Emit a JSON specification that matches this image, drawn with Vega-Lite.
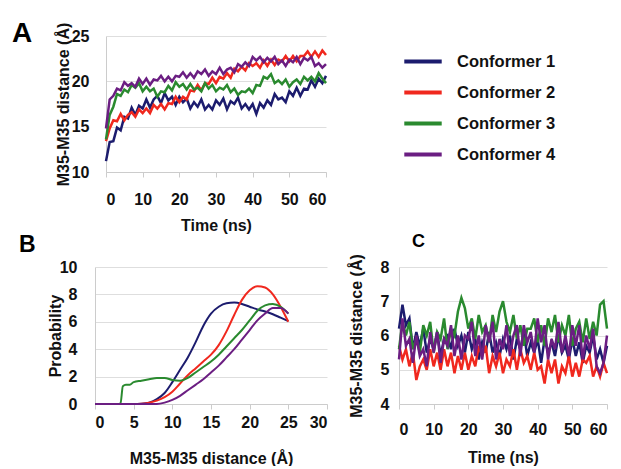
{
"$schema":"https://vega.github.io/schema/vega-lite/v6.json",
"background":"white",
"padding":{"left":12,"top":20,"right":5,"bottom":0},
"config":{
"font":"Liberation Sans",
"view":{"stroke":null},
"axis":{"labelFont":"Liberation Sans","labelFontWeight":"bold","labelFontSize":16,"labelColor":"#111","titleFont":"Liberation Sans","titleFontWeight":"bold","titleFontSize":16,"titleColor":"#111","gridColor":"#dedede","domainColor":"#cccccc","tickColor":"#cccccc"},
"axisY":{"ticks":false,"grid":true},
"axisX":{"grid":false,"tickSize":5},
"legend":{"orient":"none","legendX":307,"legendY":13,"symbolType":"stroke","symbolSize":1400,"symbolStrokeWidth":4,"clipHeight":25,"rowPadding":6,"labelFont":"Liberation Sans","labelFontWeight":"bold","labelFontSize":16.5,"labelColor":"#111","labelOffset":13,"padding":0},
"title":{"font":"Liberation Sans","fontWeight":"bold","color":"#000","anchor":"start","frame":"group"}
},
"datasets":{
"A":[
{"s":1,"t":0,"v":11.2},{"s":1,"t":1,"v":13.3},{"s":1,"t":2,"v":13.4},{"s":1,"t":3,"v":14.9},{"s":1,"t":4,"v":14.6},{"s":1,"t":5,"v":16.1},{"s":1,"t":6,"v":15.9},{"s":1,"t":7,"v":17.1},{"s":1,"t":8,"v":16.3},{"s":1,"t":9,"v":17.3},
{"s":1,"t":10,"v":17.0},{"s":1,"t":11,"v":18.0},{"s":1,"t":12,"v":17.1},{"s":1,"t":13,"v":18.0},{"s":1,"t":14,"v":18.4},{"s":1,"t":15,"v":17.6},{"s":1,"t":16,"v":18.7},{"s":1,"t":17,"v":17.9},{"s":1,"t":18,"v":18.3},{"s":1,"t":19,"v":17.4},
{"s":1,"t":20,"v":18.3},{"s":1,"t":21,"v":17.7},{"s":1,"t":22,"v":18.1},{"s":1,"t":23,"v":17.0},{"s":1,"t":24,"v":17.7},{"s":1,"t":25,"v":17.2},{"s":1,"t":26,"v":18.0},{"s":1,"t":27,"v":16.9},{"s":1,"t":28,"v":17.4},{"s":1,"t":29,"v":16.9},
{"s":1,"t":30,"v":17.9},{"s":1,"t":31,"v":17.4},{"s":1,"t":32,"v":18.1},{"s":1,"t":33,"v":16.9},{"s":1,"t":34,"v":17.8},{"s":1,"t":35,"v":17.5},{"s":1,"t":36,"v":18.2},{"s":1,"t":37,"v":17.0},{"s":1,"t":38,"v":17.5},{"s":1,"t":39,"v":16.9},
{"s":1,"t":40,"v":17.5},{"s":1,"t":41,"v":16.4},{"s":1,"t":42,"v":17.6},{"s":1,"t":43,"v":17.1},{"s":1,"t":44,"v":17.9},{"s":1,"t":45,"v":17.4},{"s":1,"t":46,"v":18.6},{"s":1,"t":47,"v":18.0},{"s":1,"t":48,"v":18.2},{"s":1,"t":49,"v":17.7},
{"s":1,"t":50,"v":18.9},{"s":1,"t":51,"v":18.4},{"s":1,"t":52,"v":19.3},{"s":1,"t":53,"v":18.4},{"s":1,"t":54,"v":19.2},{"s":1,"t":55,"v":19.1},{"s":1,"t":56,"v":20.1},{"s":1,"t":57,"v":19.4},{"s":1,"t":58,"v":20.3},{"s":1,"t":59,"v":19.8},{"s":1,"t":60,"v":20.6},
{"s":2,"t":0,"v":13.4},{"s":2,"t":1,"v":14.8},{"s":2,"t":2,"v":15.7},{"s":2,"t":3,"v":15.6},{"s":2,"t":4,"v":16.4},{"s":2,"t":5,"v":15.7},{"s":2,"t":6,"v":16.3},{"s":2,"t":7,"v":16.6},{"s":2,"t":8,"v":16.1},{"s":2,"t":9,"v":16.9},
{"s":2,"t":10,"v":16.5},{"s":2,"t":11,"v":17.0},{"s":2,"t":12,"v":16.5},{"s":2,"t":13,"v":17.4},{"s":2,"t":14,"v":17.0},{"s":2,"t":15,"v":17.5},{"s":2,"t":16,"v":16.9},{"s":2,"t":17,"v":17.6},{"s":2,"t":18,"v":17.5},{"s":2,"t":19,"v":18.3},
{"s":2,"t":20,"v":17.7},{"s":2,"t":21,"v":18.3},{"s":2,"t":22,"v":18.0},{"s":2,"t":23,"v":19.0},{"s":2,"t":24,"v":18.9},{"s":2,"t":25,"v":19.6},{"s":2,"t":26,"v":19.0},{"s":2,"t":27,"v":19.8},{"s":2,"t":28,"v":19.7},{"s":2,"t":29,"v":20.4},
{"s":2,"t":30,"v":19.8},{"s":2,"t":31,"v":20.5},{"s":2,"t":32,"v":20.3},{"s":2,"t":33,"v":20.9},{"s":2,"t":34,"v":20.4},{"s":2,"t":35,"v":21.4},{"s":2,"t":36,"v":21.1},{"s":2,"t":37,"v":21.6},{"s":2,"t":38,"v":21.2},{"s":2,"t":39,"v":22.0},
{"s":2,"t":40,"v":21.7},{"s":2,"t":41,"v":22.0},{"s":2,"t":42,"v":21.5},{"s":2,"t":43,"v":22.3},{"s":2,"t":44,"v":21.7},{"s":2,"t":45,"v":22.4},{"s":2,"t":46,"v":21.8},{"s":2,"t":47,"v":22.4},{"s":2,"t":48,"v":22.2},{"s":2,"t":49,"v":22.8},
{"s":2,"t":50,"v":22.2},{"s":2,"t":51,"v":22.8},{"s":2,"t":52,"v":22.2},{"s":2,"t":53,"v":22.8},{"s":2,"t":54,"v":22.8},{"s":2,"t":55,"v":23.3},{"s":2,"t":56,"v":22.7},{"s":2,"t":57,"v":23.3},{"s":2,"t":58,"v":22.7},{"s":2,"t":59,"v":23.4},{"s":2,"t":60,"v":22.9},
{"s":3,"t":0,"v":13.6},{"s":3,"t":1,"v":16.3},{"s":3,"t":2,"v":17.2},{"s":3,"t":3,"v":18.6},{"s":3,"t":4,"v":18.4},{"s":3,"t":5,"v":19.1},{"s":3,"t":6,"v":18.8},{"s":3,"t":7,"v":19.6},{"s":3,"t":8,"v":19.3},{"s":3,"t":9,"v":19.8},
{"s":3,"t":10,"v":18.9},{"s":3,"t":11,"v":19.4},{"s":3,"t":12,"v":18.9},{"s":3,"t":13,"v":19.2},{"s":3,"t":14,"v":18.3},{"s":3,"t":15,"v":18.9},{"s":3,"t":16,"v":18.8},{"s":3,"t":17,"v":19.5},{"s":3,"t":18,"v":19.0},{"s":3,"t":19,"v":19.9},
{"s":3,"t":20,"v":19.4},{"s":3,"t":21,"v":19.7},{"s":3,"t":22,"v":19.1},{"s":3,"t":23,"v":19.7},{"s":3,"t":24,"v":19.1},{"s":3,"t":25,"v":19.3},{"s":3,"t":26,"v":18.9},{"s":3,"t":27,"v":19.8},{"s":3,"t":28,"v":19.2},{"s":3,"t":29,"v":19.6},
{"s":3,"t":30,"v":18.9},{"s":3,"t":31,"v":19.3},{"s":3,"t":32,"v":19.1},{"s":3,"t":33,"v":19.6},{"s":3,"t":34,"v":18.8},{"s":3,"t":35,"v":19.2},{"s":3,"t":36,"v":18.5},{"s":3,"t":37,"v":18.9},{"s":3,"t":38,"v":18.8},{"s":3,"t":39,"v":19.2},
{"s":3,"t":40,"v":18.7},{"s":3,"t":41,"v":19.6},{"s":3,"t":42,"v":19.5},{"s":3,"t":43,"v":20.5},{"s":3,"t":44,"v":20.3},{"s":3,"t":45,"v":20.8},{"s":3,"t":46,"v":19.8},{"s":3,"t":47,"v":20.1},{"s":3,"t":48,"v":19.7},{"s":3,"t":49,"v":20.2},
{"s":3,"t":50,"v":19.4},{"s":3,"t":51,"v":19.9},{"s":3,"t":52,"v":20.2},{"s":3,"t":53,"v":19.7},{"s":3,"t":54,"v":20.5},{"s":3,"t":55,"v":20.1},{"s":3,"t":56,"v":20.5},{"s":3,"t":57,"v":20.0},{"s":3,"t":58,"v":20.9},{"s":3,"t":59,"v":20.3},{"s":3,"t":60,"v":19.8},
{"s":4,"t":0,"v":14.8},{"s":4,"t":1,"v":18.0},{"s":4,"t":2,"v":18.4},{"s":4,"t":3,"v":19.2},{"s":4,"t":4,"v":19.0},{"s":4,"t":5,"v":19.9},{"s":4,"t":6,"v":19.5},{"s":4,"t":7,"v":19.8},{"s":4,"t":8,"v":19.4},{"s":4,"t":9,"v":20.3},
{"s":4,"t":10,"v":19.7},{"s":4,"t":11,"v":20.3},{"s":4,"t":12,"v":19.6},{"s":4,"t":13,"v":20.2},{"s":4,"t":14,"v":20.1},{"s":4,"t":15,"v":20.6},{"s":4,"t":16,"v":20.0},{"s":4,"t":17,"v":20.5},{"s":4,"t":18,"v":20.0},{"s":4,"t":19,"v":20.6},
{"s":4,"t":20,"v":20.5},{"s":4,"t":21,"v":21.0},{"s":4,"t":22,"v":20.4},{"s":4,"t":23,"v":20.9},{"s":4,"t":24,"v":20.4},{"s":4,"t":25,"v":21.1},{"s":4,"t":26,"v":20.8},{"s":4,"t":27,"v":21.3},{"s":4,"t":28,"v":20.6},{"s":4,"t":29,"v":21.1},
{"s":4,"t":30,"v":20.8},{"s":4,"t":31,"v":21.5},{"s":4,"t":32,"v":20.8},{"s":4,"t":33,"v":21.3},{"s":4,"t":34,"v":21.5},{"s":4,"t":35,"v":21.0},{"s":4,"t":36,"v":21.9},{"s":4,"t":37,"v":21.6},{"s":4,"t":38,"v":22.1},{"s":4,"t":39,"v":21.7},
{"s":4,"t":40,"v":22.7},{"s":4,"t":41,"v":22.3},{"s":4,"t":42,"v":22.7},{"s":4,"t":43,"v":22.1},{"s":4,"t":44,"v":22.6},{"s":4,"t":45,"v":22.2},{"s":4,"t":46,"v":22.7},{"s":4,"t":47,"v":21.9},{"s":4,"t":48,"v":22.3},{"s":4,"t":49,"v":21.7},
{"s":4,"t":50,"v":22.4},{"s":4,"t":51,"v":22.1},{"s":4,"t":52,"v":22.7},{"s":4,"t":53,"v":21.9},{"s":4,"t":54,"v":22.6},{"s":4,"t":55,"v":22.3},{"s":4,"t":56,"v":22.7},{"s":4,"t":57,"v":21.7},{"s":4,"t":58,"v":22.0},{"s":4,"t":59,"v":21.5},{"s":4,"t":60,"v":21.9}
],
"B":[
{"s":1,"x":0,"p":0},{"s":1,"x":1,"p":0},{"s":1,"x":2,"p":0},{"s":1,"x":3,"p":0},{"s":1,"x":4,"p":0},{"s":1,"x":5,"p":0},{"s":1,"x":6,"p":0.02},{"s":1,"x":7,"p":0.1},{"s":1,"x":8,"p":0.35},{"s":1,"x":9,"p":0.8},{"s":1,"x":10,"p":1.6},{"s":1,"x":11,"p":2.5},{"s":1,"x":12,"p":3.4},{"s":1,"x":13,"p":4.5},{"s":1,"x":14,"p":5.7},{"s":1,"x":15,"p":6.6},{"s":1,"x":16,"p":7.1},{"s":1,"x":17,"p":7.35},{"s":1,"x":18,"p":7.4},{"s":1,"x":19,"p":7.3},{"s":1,"x":20,"p":7.1},{"s":1,"x":21,"p":6.9},{"s":1,"x":22,"p":6.75},{"s":1,"x":23,"p":6.55},{"s":1,"x":24,"p":6.3},{"s":1,"x":25,"p":6.05},
{"s":2,"x":0,"p":0},{"s":2,"x":1,"p":0},{"s":2,"x":2,"p":0},{"s":2,"x":3,"p":0},{"s":2,"x":4,"p":0},{"s":2,"x":5,"p":0},{"s":2,"x":6,"p":0.02},{"s":2,"x":7,"p":0.1},{"s":2,"x":8,"p":0.25},{"s":2,"x":9,"p":0.5},{"s":2,"x":10,"p":0.9},{"s":2,"x":11,"p":1.5},{"s":2,"x":12,"p":2.1},{"s":2,"x":13,"p":2.6},{"s":2,"x":14,"p":3.1},{"s":2,"x":15,"p":3.6},{"s":2,"x":16,"p":4.3},{"s":2,"x":17,"p":5.3},{"s":2,"x":18,"p":6.5},{"s":2,"x":19,"p":7.6},{"s":2,"x":20,"p":8.3},{"s":2,"x":21,"p":8.6},{"s":2,"x":22,"p":8.5},{"s":2,"x":23,"p":8.0},{"s":2,"x":24,"p":7.1},{"s":2,"x":25,"p":6.0},
{"s":3,"x":0,"p":0},{"s":3,"x":1,"p":0},{"s":3,"x":2,"p":0},{"s":3,"x":3,"p":0},{"s":3,"x":3.3,"p":0.05},{"s":3,"x":3.6,"p":1.3},{"s":3,"x":4,"p":1.4},{"s":3,"x":4.5,"p":1.4},{"s":3,"x":5,"p":1.6},{"s":3,"x":6,"p":1.7},{"s":3,"x":7,"p":1.8},{"s":3,"x":8,"p":1.9},{"s":3,"x":9,"p":1.9},{"s":3,"x":10,"p":1.75},{"s":3,"x":11,"p":1.7},{"s":3,"x":12,"p":1.9},{"s":3,"x":13,"p":2.3},{"s":3,"x":14,"p":2.7},{"s":3,"x":15,"p":3.1},{"s":3,"x":16,"p":3.6},{"s":3,"x":17,"p":4.2},{"s":3,"x":18,"p":4.8},{"s":3,"x":19,"p":5.4},{"s":3,"x":20,"p":6.1},{"s":3,"x":21,"p":6.8},{"s":3,"x":22,"p":7.2},{"s":3,"x":23,"p":7.3},{"s":3,"x":24,"p":7.1},{"s":3,"x":25,"p":6.6},
{"s":4,"x":0,"p":0},{"s":4,"x":1,"p":0},{"s":4,"x":2,"p":0},{"s":4,"x":3,"p":0},{"s":4,"x":4,"p":0},{"s":4,"x":5,"p":0},{"s":4,"x":6,"p":0},{"s":4,"x":7,"p":0},{"s":4,"x":8,"p":0},{"s":4,"x":9,"p":0.1},{"s":4,"x":10,"p":0.3},{"s":4,"x":11,"p":0.6},{"s":4,"x":12,"p":1.0},{"s":4,"x":13,"p":1.4},{"s":4,"x":14,"p":1.8},{"s":4,"x":15,"p":2.3},{"s":4,"x":16,"p":2.8},{"s":4,"x":17,"p":3.4},{"s":4,"x":18,"p":4.0},{"s":4,"x":19,"p":4.7},{"s":4,"x":20,"p":5.4},{"s":4,"x":21,"p":6.1},{"s":4,"x":22,"p":6.6},{"s":4,"x":23,"p":7.0},{"s":4,"x":24,"p":7.0},{"s":4,"x":25,"p":6.6}
],
"C":[
{"s":1,"t":0,"v":6.2},{"s":1,"t":1,"v":6.9},{"s":1,"t":2,"v":6.3},{"s":1,"t":3,"v":6.5},{"s":1,"t":4,"v":5.6},{"s":1,"t":5,"v":6.1},{"s":1,"t":6,"v":5.7},{"s":1,"t":7,"v":6.2},{"s":1,"t":8,"v":5.5},{"s":1,"t":9,"v":5.9},
{"s":1,"t":10,"v":5.6},{"s":1,"t":11,"v":6.1},{"s":1,"t":12,"v":5.4},{"s":1,"t":13,"v":5.9},{"s":1,"t":14,"v":6.0},{"s":1,"t":15,"v":5.6},{"s":1,"t":16,"v":6.2},{"s":1,"t":17,"v":5.7},{"s":1,"t":18,"v":6.0},{"s":1,"t":19,"v":5.5},
{"s":1,"t":20,"v":6.1},{"s":1,"t":21,"v":5.6},{"s":1,"t":22,"v":5.9},{"s":1,"t":23,"v":5.3},{"s":1,"t":24,"v":5.8},{"s":1,"t":25,"v":5.5},{"s":1,"t":26,"v":6.1},{"s":1,"t":27,"v":5.5},{"s":1,"t":28,"v":5.8},{"s":1,"t":29,"v":5.4},
{"s":1,"t":30,"v":5.9},{"s":1,"t":31,"v":5.6},{"s":1,"t":32,"v":6.0},{"s":1,"t":33,"v":5.3},{"s":1,"t":34,"v":5.9},{"s":1,"t":35,"v":5.6},{"s":1,"t":36,"v":6.1},{"s":1,"t":37,"v":5.4},{"s":1,"t":38,"v":5.8},{"s":1,"t":39,"v":5.5},
{"s":1,"t":40,"v":5.9},{"s":1,"t":41,"v":5.2},{"s":1,"t":42,"v":5.9},{"s":1,"t":43,"v":5.5},{"s":1,"t":44,"v":5.8},{"s":1,"t":45,"v":5.4},{"s":1,"t":46,"v":6.0},{"s":1,"t":47,"v":5.5},{"s":1,"t":48,"v":5.7},{"s":1,"t":49,"v":5.3},
{"s":1,"t":50,"v":5.9},{"s":1,"t":51,"v":5.4},{"s":1,"t":52,"v":5.8},{"s":1,"t":53,"v":5.2},{"s":1,"t":54,"v":5.7},{"s":1,"t":55,"v":5.5},{"s":1,"t":56,"v":6.0},{"s":1,"t":57,"v":5.3},{"s":1,"t":58,"v":5.6},{"s":1,"t":59,"v":5.2},{"s":1,"t":60,"v":5.7},
{"s":2,"t":0,"v":5.7},{"s":2,"t":1,"v":5.3},{"s":2,"t":2,"v":5.6},{"s":2,"t":3,"v":5.1},{"s":2,"t":4,"v":5.5},{"s":2,"t":5,"v":4.7},{"s":2,"t":6,"v":5.1},{"s":2,"t":7,"v":5.3},{"s":2,"t":8,"v":5.0},{"s":2,"t":9,"v":5.6},
{"s":2,"t":10,"v":5.1},{"s":2,"t":11,"v":5.5},{"s":2,"t":12,"v":5.0},{"s":2,"t":13,"v":5.6},{"s":2,"t":14,"v":5.1},{"s":2,"t":15,"v":5.5},{"s":2,"t":16,"v":4.9},{"s":2,"t":17,"v":5.4},{"s":2,"t":18,"v":5.0},{"s":2,"t":19,"v":5.5},
{"s":2,"t":20,"v":5.0},{"s":2,"t":21,"v":5.4},{"s":2,"t":22,"v":5.1},{"s":2,"t":23,"v":5.7},{"s":2,"t":24,"v":5.4},{"s":2,"t":25,"v":5.7},{"s":2,"t":26,"v":4.9},{"s":2,"t":27,"v":5.4},{"s":2,"t":28,"v":5.1},{"s":2,"t":29,"v":5.5},
{"s":2,"t":30,"v":4.9},{"s":2,"t":31,"v":5.3},{"s":2,"t":32,"v":5.1},{"s":2,"t":33,"v":5.6},{"s":2,"t":34,"v":5.0},{"s":2,"t":35,"v":5.6},{"s":2,"t":36,"v":5.2},{"s":2,"t":37,"v":5.4},{"s":2,"t":38,"v":5.0},{"s":2,"t":39,"v":5.5},
{"s":2,"t":40,"v":5.0},{"s":2,"t":41,"v":5.1},{"s":2,"t":42,"v":4.6},{"s":2,"t":43,"v":5.3},{"s":2,"t":44,"v":4.9},{"s":2,"t":45,"v":5.3},{"s":2,"t":46,"v":4.6},{"s":2,"t":47,"v":5.1},{"s":2,"t":48,"v":4.9},{"s":2,"t":49,"v":5.4},
{"s":2,"t":50,"v":4.8},{"s":2,"t":51,"v":5.2},{"s":2,"t":52,"v":4.8},{"s":2,"t":53,"v":5.3},{"s":2,"t":54,"v":5.2},{"s":2,"t":55,"v":5.4},{"s":2,"t":56,"v":4.8},{"s":2,"t":57,"v":5.1},{"s":2,"t":58,"v":4.8},{"s":2,"t":59,"v":5.2},{"s":2,"t":60,"v":4.9},
{"s":3,"t":0,"v":5.6},{"s":3,"t":1,"v":6.4},{"s":3,"t":2,"v":6.0},{"s":3,"t":3,"v":6.4},{"s":3,"t":4,"v":5.6},{"s":3,"t":5,"v":5.9},{"s":3,"t":6,"v":5.5},{"s":3,"t":7,"v":6.3},{"s":3,"t":8,"v":6.0},{"s":3,"t":9,"v":6.4},
{"s":3,"t":10,"v":5.5},{"s":3,"t":11,"v":6.1},{"s":3,"t":12,"v":5.9},{"s":3,"t":13,"v":6.5},{"s":3,"t":14,"v":5.6},{"s":3,"t":15,"v":6.2},{"s":3,"t":16,"v":6.0},{"s":3,"t":17,"v":6.7},{"s":3,"t":18,"v":7.1},{"s":3,"t":19,"v":6.8},
{"s":3,"t":20,"v":6.2},{"s":3,"t":21,"v":6.5},{"s":3,"t":22,"v":5.9},{"s":3,"t":23,"v":6.6},{"s":3,"t":24,"v":6.1},{"s":3,"t":25,"v":6.3},{"s":3,"t":26,"v":5.8},{"s":3,"t":27,"v":6.6},{"s":3,"t":28,"v":6.1},{"s":3,"t":29,"v":6.7},
{"s":3,"t":30,"v":7.0},{"s":3,"t":31,"v":6.4},{"s":3,"t":32,"v":6.1},{"s":3,"t":33,"v":6.6},{"s":3,"t":34,"v":5.9},{"s":3,"t":35,"v":6.3},{"s":3,"t":36,"v":5.7},{"s":3,"t":37,"v":6.2},{"s":3,"t":38,"v":6.2},{"s":3,"t":39,"v":6.5},
{"s":3,"t":40,"v":5.8},{"s":3,"t":41,"v":6.3},{"s":3,"t":42,"v":5.7},{"s":3,"t":43,"v":6.5},{"s":3,"t":44,"v":6.1},{"s":3,"t":45,"v":6.6},{"s":3,"t":46,"v":5.8},{"s":3,"t":47,"v":6.3},{"s":3,"t":48,"v":6.0},{"s":3,"t":49,"v":6.6},
{"s":3,"t":50,"v":5.7},{"s":3,"t":51,"v":6.2},{"s":3,"t":52,"v":6.4},{"s":3,"t":53,"v":5.8},{"s":3,"t":54,"v":6.5},{"s":3,"t":55,"v":5.9},{"s":3,"t":56,"v":6.4},{"s":3,"t":57,"v":6.0},{"s":3,"t":58,"v":6.9},{"s":3,"t":59,"v":7.0},{"s":3,"t":60,"v":6.2},
{"s":4,"t":0,"v":5.3},{"s":4,"t":1,"v":6.5},{"s":4,"t":2,"v":5.7},{"s":4,"t":3,"v":5.9},{"s":4,"t":4,"v":5.2},{"s":4,"t":5,"v":6.0},{"s":4,"t":6,"v":5.4},{"s":4,"t":7,"v":5.6},{"s":4,"t":8,"v":5.1},{"s":4,"t":9,"v":6.1},
{"s":4,"t":10,"v":5.5},{"s":4,"t":11,"v":6.1},{"s":4,"t":12,"v":5.2},{"s":4,"t":13,"v":5.9},{"s":4,"t":14,"v":5.7},{"s":4,"t":15,"v":6.3},{"s":4,"t":16,"v":5.4},{"s":4,"t":17,"v":6.0},{"s":4,"t":18,"v":5.3},{"s":4,"t":19,"v":6.0},
{"s":4,"t":20,"v":5.9},{"s":4,"t":21,"v":6.4},{"s":4,"t":22,"v":5.4},{"s":4,"t":23,"v":6.0},{"s":4,"t":24,"v":5.3},{"s":4,"t":25,"v":6.3},{"s":4,"t":26,"v":5.8},{"s":4,"t":27,"v":6.4},{"s":4,"t":28,"v":5.3},{"s":4,"t":29,"v":5.9},
{"s":4,"t":30,"v":5.6},{"s":4,"t":31,"v":6.3},{"s":4,"t":32,"v":5.4},{"s":4,"t":33,"v":6.0},{"s":4,"t":34,"v":6.3},{"s":4,"t":35,"v":5.4},{"s":4,"t":36,"v":6.3},{"s":4,"t":37,"v":5.8},{"s":4,"t":38,"v":6.1},{"s":4,"t":39,"v":5.5},
{"s":4,"t":40,"v":6.5},{"s":4,"t":41,"v":5.8},{"s":4,"t":42,"v":6.3},{"s":4,"t":43,"v":5.3},{"s":4,"t":44,"v":5.9},{"s":4,"t":45,"v":5.6},{"s":4,"t":46,"v":6.4},{"s":4,"t":47,"v":5.5},{"s":4,"t":48,"v":6.0},{"s":4,"t":49,"v":5.4},
{"s":4,"t":50,"v":6.3},{"s":4,"t":51,"v":5.7},{"s":4,"t":52,"v":6.3},{"s":4,"t":53,"v":5.3},{"s":4,"t":54,"v":6.0},{"s":4,"t":55,"v":5.6},{"s":4,"t":56,"v":6.2},{"s":4,"t":57,"v":5.1},{"s":4,"t":58,"v":4.9},{"s":4,"t":59,"v":5.2},{"s":4,"t":60,"v":6.0}
]
},
"resolve":{"scale":{"color":"shared"},"legend":{"color":"shared"}},
"bounds":"flush",
"spacing":95,
"vconcat":[
{
"title":{"text":"A","fontSize":28,"dx":-83,"dy":30},
"width":231,"height":136,
"data":{"name":"A"},
"mark":{"type":"line","strokeWidth":2.5},
"encoding":{
"x":{"field":"t","type":"quantitative","scale":{"domain":[0,60],"range":[11,231],"nice":false},"axis":{"values":[0,10,20,30,40,50,60],"title":"Time (ns)","labelPadding":14,"titlePadding":10}},
"y":{"field":"v","type":"quantitative","scale":{"domain":[10,25],"nice":false,"zero":false},"axis":{"values":[10,15,20,25],"title":"M35-M35 distance (Å)","offset":-11,"labelPadding":17,"titlePadding":0}},
"color":{"field":"s","type":"nominal","scale":{"domain":[1,2,3,4],"range":["#1c1c6e","#f0281e","#2a8a2f","#6b1e82"]},"legend":{"title":null,"labelExpr":"'Conformer ' + datum.label"}}
}
},
{
"hconcat":[
{
"title":{"text":"B","fontSize":23,"dx":-76,"dy":2},
"width":232,"height":137,
"data":{"name":"B"},
"mark":{"type":"line","strokeWidth":2,"interpolate":"monotone"},
"encoding":{
"x":{"field":"x","type":"quantitative","scale":{"domain":[0,30],"nice":false},"axis":{"values":[0,5,10,15,20,25,30],"title":"M35-M35 distance (Å)","labelPadding":5,"titlePadding":20}},
"y":{"field":"p","type":"quantitative","scale":{"domain":[0,10],"nice":false},"axis":{"values":[0,2,4,6,8,10],"title":"Probability","labelPadding":18,"titlePadding":-4}},
"color":{"field":"s","type":"nominal","scale":{"domain":[1,2,3,4],"range":["#1c1c6e","#f0281e","#2a8a2f","#6b1e82"]},"legend":{"title":null,"labelExpr":"'Conformer ' + datum.label"}}
}
},
{
"title":{"text":"C","fontSize":18,"dx":13,"dy":1},
"width":208,"height":137,
"data":{"name":"C"},
"mark":{"type":"line","strokeWidth":2.5},
"encoding":{
"x":{"field":"t","type":"quantitative","scale":{"domain":[0,60],"nice":false},"axis":{"values":[0,10,20,30,40,50,60],"title":"Time (ns)","labelPadding":12,"titlePadding":12}},
"y":{"field":"v","type":"quantitative","scale":{"domain":[4,8],"nice":false,"zero":false},"axis":{"values":[4,5,6,7,8],"title":"M35-M35 distance (Å)","labelPadding":10,"titlePadding":16}},
"color":{"field":"s","type":"nominal","scale":{"domain":[1,2,3,4],"range":["#1c1c6e","#f0281e","#2a8a2f","#6b1e82"]},"legend":{"title":null,"labelExpr":"'Conformer ' + datum.label"}}
}
}
],
"spacing":72,
"bounds":"flush",
"resolve":{"scale":{"color":"shared"},"legend":{"color":"shared"}}
}
]
}
